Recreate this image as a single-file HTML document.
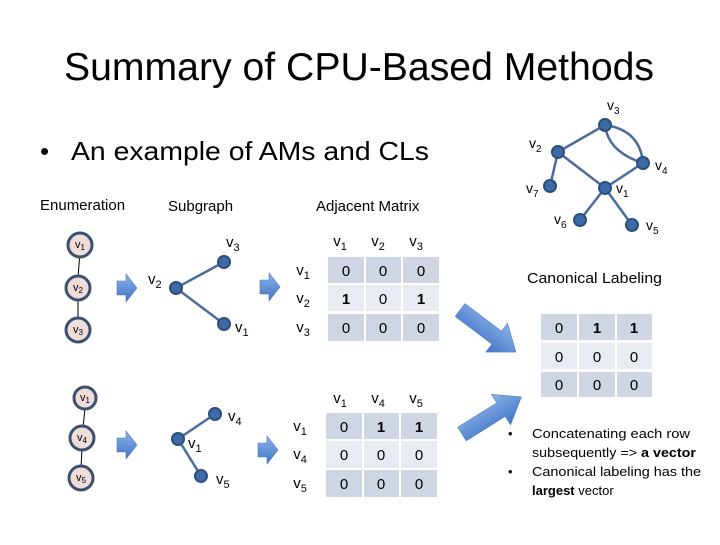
<!DOCTYPE html>
<html><head><meta charset="utf-8"><style>
body{margin:0;background:#fff;}
svg text{font-family:"Liberation Sans",sans-serif;}
</style></head><body>
<svg width="720" height="540" viewBox="0 0 720 540" xmlns="http://www.w3.org/2000/svg">
<defs>
<linearGradient id="ag" x1="0" y1="0" x2="0" y2="1"><stop offset="0" stop-color="#8db3e8"/><stop offset="1" stop-color="#3f74c6"/></linearGradient>
<g id="rarrow"><polygon points="0,-7 9,-7 9,-14 20,0 9,14 9,7 0,7" fill="url(#ag)" stroke="#4a7bc4" stroke-width="0.6"/></g>
<g id="darrow"><polygon points="0,-8 46,-8 46,-18 70,0 46,18 46,8 0,8" fill="url(#ag)" stroke="#4a7bc4" stroke-width="0.6"/></g>
</defs>
<text x="64" y="80" font-size="39" textLength="590" lengthAdjust="spacingAndGlyphs" fill="#000">Summary of CPU-Based Methods</text>
<text x="40" y="160" font-size="26" fill="#000">•</text>
<text x="71" y="160" font-size="26" textLength="358" lengthAdjust="spacingAndGlyphs" fill="#000">An example of AMs and CLs</text>
<g font-size="15" fill="#000">
<text x="40" y="210">Enumeration</text>
<text x="168" y="211">Subgraph</text>
<text x="316" y="211">Adjacent Matrix</text>
</g>
<g stroke="#000" stroke-width="1"><line x1="80" y1="252" x2="78" y2="278"/><line x1="78" y1="298" x2="78" y2="318"/><line x1="85" y1="408" x2="83" y2="428"/><line x1="82" y1="448" x2="81" y2="468"/></g>
<g fill="#f0dcd8" stroke="#3c5170" stroke-width="3">
<circle cx="80" cy="245" r="12"/><circle cx="78" cy="288" r="12"/><circle cx="78" cy="330" r="12"/>
<circle cx="85" cy="398" r="11"/><circle cx="82" cy="438" r="12"/><circle cx="81" cy="478" r="12"/>
</g>
<g font-size="11" fill="#000" text-anchor="middle">
<text x="80" y="248">v<tspan font-size="8" dy="2">1</tspan></text><text x="78" y="291">v<tspan font-size="8" dy="2">2</tspan></text><text x="78" y="333">v<tspan font-size="8" dy="2">3</tspan></text>
<text x="85" y="401">v<tspan font-size="8" dy="2">1</tspan></text><text x="82" y="441">v<tspan font-size="8" dy="2">4</tspan></text><text x="81" y="481">v<tspan font-size="8" dy="2">5</tspan></text>
</g>
<use href="#rarrow" x="117" y="288"/><use href="#rarrow" x="117" y="445"/>
<use href="#rarrow" x="260" y="287"/><use href="#rarrow" x="258" y="450"/>
<g stroke="#4a6c9c" stroke-width="2.5"><line x1="176" y1="288" x2="224" y2="262"/><line x1="176" y1="288" x2="224" y2="324"/>
<line x1="178" y1="439" x2="215" y2="414"/><line x1="178" y1="439" x2="201" y2="476"/></g>
<g fill="#3e6aa5" stroke="#2c4f80" stroke-width="2">
<circle cx="176" cy="288" r="6"/><circle cx="224" cy="262" r="6"/><circle cx="224" cy="324" r="6"/>
<circle cx="178" cy="439" r="6"/><circle cx="215" cy="414" r="6"/><circle cx="201" cy="476" r="6"/>
</g>
<g font-size="15" fill="#000">
<text x="148" y="284">v<tspan font-size="11" dy="4">2</tspan></text><text x="226" y="247">v<tspan font-size="11" dy="4">3</tspan></text><text x="235" y="332">v<tspan font-size="11" dy="4">1</tspan></text>
<text x="228" y="421">v<tspan font-size="11" dy="4">4</tspan></text><text x="188" y="448">v<tspan font-size="11" dy="4">1</tspan></text><text x="216" y="484">v<tspan font-size="11" dy="4">5</tspan></text>
</g>
<g>
<rect x="328" y="257" width="36" height="26" fill="#cfd5e3"/><rect x="366" y="257" width="35" height="26" fill="#cfd5e3"/><rect x="403" y="257" width="36" height="26" fill="#cfd5e3"/>
<rect x="328" y="285" width="36" height="26" fill="#e8ebf2"/><rect x="366" y="285" width="35" height="26" fill="#e8ebf2"/><rect x="403" y="285" width="36" height="26" fill="#e8ebf2"/>
<rect x="328" y="314" width="36" height="27" fill="#cfd5e3"/><rect x="366" y="314" width="35" height="27" fill="#cfd5e3"/><rect x="403" y="314" width="36" height="27" fill="#cfd5e3"/>
<rect x="326" y="413" width="36" height="26" fill="#cfd5e3"/><rect x="364" y="413" width="35" height="26" fill="#cfd5e3"/><rect x="401" y="413" width="36" height="26" fill="#cfd5e3"/>
<rect x="326" y="441" width="36" height="27" fill="#e8ebf2"/><rect x="364" y="441" width="35" height="27" fill="#e8ebf2"/><rect x="401" y="441" width="36" height="27" fill="#e8ebf2"/>
<rect x="326" y="470" width="36" height="27" fill="#cfd5e3"/><rect x="364" y="470" width="35" height="27" fill="#cfd5e3"/><rect x="401" y="470" width="36" height="27" fill="#cfd5e3"/>
<rect x="541" y="314" width="36" height="26" fill="#cfd5e3"/><rect x="579" y="314" width="36" height="26" fill="#cfd5e3"/><rect x="617" y="314" width="35" height="26" fill="#cfd5e3"/>
<rect x="541" y="343" width="36" height="26" fill="#e8ebf2"/><rect x="579" y="343" width="36" height="26" fill="#e8ebf2"/><rect x="617" y="343" width="35" height="26" fill="#e8ebf2"/>
<rect x="541" y="372" width="36" height="25" fill="#cfd5e3"/><rect x="579" y="372" width="36" height="25" fill="#cfd5e3"/><rect x="617" y="372" width="35" height="25" fill="#cfd5e3"/>
</g>
<g font-size="15" fill="#000" text-anchor="middle">
<text x="340" y="246">v<tspan font-size="11" dy="4">1</tspan></text><text x="378" y="246">v<tspan font-size="11" dy="4">2</tspan></text><text x="416" y="246">v<tspan font-size="11" dy="4">3</tspan></text>
<text x="303" y="275">v<tspan font-size="11" dy="4">1</tspan></text><text x="303" y="303">v<tspan font-size="11" dy="4">2</tspan></text><text x="303" y="332">v<tspan font-size="11" dy="4">3</tspan></text>
<text x="346" y="276">0</text><text x="383" y="276">0</text><text x="421" y="276">0</text>
<text x="346" y="304" font-weight="bold">1</text><text x="383" y="304">0</text><text x="421" y="304" font-weight="bold">1</text>
<text x="346" y="333">0</text><text x="383" y="333">0</text><text x="421" y="333">0</text>
<text x="340" y="403">v<tspan font-size="11" dy="4">1</tspan></text><text x="378" y="403">v<tspan font-size="11" dy="4">4</tspan></text><text x="416" y="403">v<tspan font-size="11" dy="4">5</tspan></text>
<text x="300" y="431">v<tspan font-size="11" dy="4">1</tspan></text><text x="300" y="459">v<tspan font-size="11" dy="4">4</tspan></text><text x="300" y="488">v<tspan font-size="11" dy="4">5</tspan></text>
<text x="344" y="432">0</text><text x="381" y="432" font-weight="bold">1</text><text x="419" y="432" font-weight="bold">1</text>
<text x="344" y="460">0</text><text x="381" y="460">0</text><text x="419" y="460">0</text>
<text x="344" y="489">0</text><text x="381" y="489">0</text><text x="419" y="489">0</text>
<text x="559" y="333">0</text><text x="597" y="333" font-weight="bold">1</text><text x="634" y="333" font-weight="bold">1</text>
<text x="559" y="362">0</text><text x="597" y="362">0</text><text x="634" y="362">0</text>
<text x="559" y="390">0</text><text x="597" y="390">0</text><text x="634" y="390">0</text>
</g>
<g transform="translate(460,310) rotate(37)"><use href="#darrow"/></g>
<g transform="translate(462,434) rotate(-32)"><use href="#darrow"/></g>
<g stroke="#4a6c9c" stroke-width="2.5" fill="none">
<line x1="558" y1="152" x2="605" y2="125"/><line x1="558" y1="152" x2="605" y2="188"/><line x1="558" y1="152" x2="550" y2="186"/>
<line x1="605" y1="188" x2="643" y2="163"/><line x1="605" y1="188" x2="580" y2="220"/><line x1="605" y1="188" x2="632" y2="225"/>
<path d="M605,125 Q640,130 643,163"/><path d="M605,125 Q608,152 643,163"/>
</g>
<g fill="#3e6aa5" stroke="#2c4f80" stroke-width="2">
<circle cx="605" cy="125" r="6"/><circle cx="558" cy="152" r="6"/><circle cx="643" cy="163" r="6"/>
<circle cx="550" cy="186" r="6"/><circle cx="605" cy="188" r="6"/><circle cx="580" cy="220" r="6"/><circle cx="632" cy="225" r="6"/>
</g>
<g font-size="14" fill="#000">
<text x="607" y="110">v<tspan font-size="10" dy="4">3</tspan></text><text x="529" y="148">v<tspan font-size="10" dy="4">2</tspan></text><text x="655" y="170">v<tspan font-size="10" dy="4">4</tspan></text>
<text x="526" y="193">v<tspan font-size="10" dy="4">7</tspan></text><text x="616" y="193">v<tspan font-size="10" dy="4">1</tspan></text><text x="554" y="224">v<tspan font-size="10" dy="4">6</tspan></text><text x="646" y="230">v<tspan font-size="10" dy="4">5</tspan></text>
</g>
<text x="527" y="283" font-size="15" textLength="135" lengthAdjust="spacingAndGlyphs" fill="#000">Canonical Labeling</text>
<g font-size="13" fill="#000">
<text x="508" y="438">•</text><text x="532" y="438" textLength="158" lengthAdjust="spacingAndGlyphs">Concatenating  each row</text>
<text x="532" y="457" textLength="164" lengthAdjust="spacingAndGlyphs">subsequently =&gt; <tspan font-weight="bold">a vector</tspan></text>
<text x="508" y="476">•</text><text x="532" y="476" textLength="169" lengthAdjust="spacingAndGlyphs">Canonical labeling has the</text>
<text x="532" y="495" font-weight="bold">largest <tspan font-weight="normal">vector</tspan></text>
</g>
</svg>
</body></html>
